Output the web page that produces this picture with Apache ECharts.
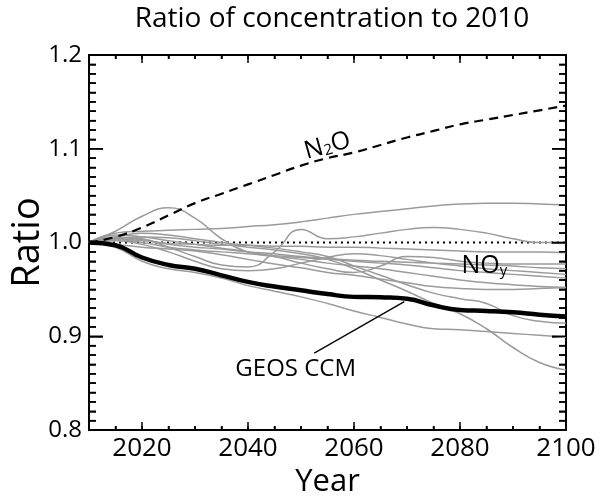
<!DOCTYPE html>
<html><head><meta charset="utf-8">
<script src="https://cdn.jsdelivr.net/npm/echarts@6/dist/echarts.min.js"></script>
<style>html,body{margin:0;padding:0;background:#fff}#c{width:600px;height:497px}</style>
</head><body><div id="c"></div><script>
// Years sampled every 5 years, 2010-2100
const years = [2010,2015,2020,2025,2030,2035,2040,2045,2050,2055,2060,2065,2070,2075,2080,2085,2090,2095,2100];

// N2O ratio (dashed)
const n2o = [1.000,1.006,1.016,1.029,1.042,1.052,1.062,1.072,1.082,1.090,1.096,1.104,1.112,1.119,1.126,1.131,1.136,1.141,1.146];
// GEOS CCM NOy ratio (thick black)
const geos = [1.000,0.997,0.984,0.976,0.972,0.965,0.958,0.953,0.949,0.945,0.942,0.9415,0.940,0.933,0.928,0.927,0.9255,0.923,0.921];
// Other models' NOy ratios (grey)
const m1  = [1.000,1.010,1.012,1.013,1.014,1.015,1.017,1.019,1.022,1.026,1.030,1.033,1.036,1.039,1.041,1.042,1.042,1.041,1.040];
const m2  = [1.000,1.012,1.028,1.037,1.026,1.004,0.990,0.985,0.982,0.978,0.975,0.972,0.968,0.964,0.960,0.957,0.955,0.953,0.952];
const m3  = [1.000,1.006,1.004,0.995,0.985,0.976,0.974,0.990,1.014,1.004,1.006,1.010,1.014,1.016,1.014,1.010,1.004,1.000,1.000];
const m4  = [1.000,1.004,1.002,0.999,0.998,0.997,0.997,0.996,0.996,0.995,0.995,0.994,0.993,0.992,0.991,0.990,0.990,0.990,0.989];
const m5  = [1.000,1.008,1.006,1.002,0.998,0.994,0.990,0.985,0.978,0.972,0.968,0.975,0.985,0.984,0.980,0.978,0.977,0.977,0.977];
const m6  = [1.000,1.005,1.003,0.998,0.995,0.993,0.990,0.988,0.985,0.983,0.981,0.980,0.979,0.978,0.977,0.976,0.975,0.973,0.972];
const m7  = [1.000,1.003,1.000,0.995,0.992,0.990,0.988,0.986,0.984,0.982,0.980,0.978,0.976,0.973,0.970,0.968,0.966,0.964,0.962];
const m8  = [1.000,1.006,1.010,1.008,1.004,1.000,0.997,0.994,0.990,0.985,0.975,0.965,0.955,0.946,0.940,0.935,0.922,0.916,0.914];
const m9  = [1.000,1.004,1.006,1.005,1.002,0.998,0.995,0.992,0.988,0.982,0.972,0.960,0.948,0.935,0.924,0.908,0.888,0.872,0.864];
const m10 = [1.000,0.995,0.980,0.972,0.968,0.962,0.954,0.948,0.942,0.935,0.927,0.920,0.913,0.908,0.907,0.905,0.903,0.901,0.899];
const m11 = [1.000,0.998,0.995,0.993,0.991,0.987,0.982,0.977,0.973,0.968,0.965,0.961,0.957,0.953,0.951,0.950,0.950,0.951,0.952];
const m12 = [1.000,1.002,0.998,0.990,0.980,0.972,0.970,0.972,0.978,0.984,0.988,0.986,0.982,0.978,0.975,0.972,0.970,0.968,0.966];
const models = [m1,m2,m3,m4,m5,m6,m7,m8,m9,m10,m11,m12];

// Reference line at ratio 1
const refLine = [[2010,1.0],[2100,1.0]];

// Axis range and tick layout
const X_MIN = 2010, X_MAX = 2100, Y_MIN = 0.8, Y_MAX = 1.2;
const xMajorTicks = [2020,2040,2060,2080,2100];
const yMajorTicks = [0.8,0.9,1.0,1.1,1.2];

// Annotations: [x, y, text] in data coordinates
const n2oLabel = [2055, 1.103, '{b|N}{s|2}{b|O}'];
const noyLabel = [2084.6, 0.975, '{b|NO}{s|y}'];
const geosLabel = [2049, 0.8645, 'GEOS CCM'];
const arrowFrom = [2052.5, 0.882];
const arrowTo = [2069.5, 0.937];

const FONT = '"Open Sans", "Noto Sans", sans-serif';
const pair = arr => years.map((y, i) => [y, arr[i]]);

// Plot area (pixels) and data units per pixel, used to size tick marks
const GRID = {left: 89, right: 34, top: 55, bottom: 67};
const PLOT_W = 600 - GRID.left - GRID.right, PLOT_H = 497 - GRID.top - GRID.bottom;
const dxPerPx = (X_MAX - X_MIN) / PLOT_W, dyPerPx = (Y_MAX - Y_MIN) / PLOT_H;

// Inward tick segments on all four frame edges: every 5 years, every 0.01
const tickSegs = [];
for (let yr = X_MIN; yr <= X_MAX; yr += 5) {
  const len = (xMajorTicks.includes(yr) ? 8 : 4) * dyPerPx;
  tickSegs.push([[yr, Y_MIN], [yr, Y_MIN + len]]);
  tickSegs.push([[yr, Y_MAX], [yr, Y_MAX - len]]);
}
for (let k = 0; k <= 40; k++) {
  const v = +(Y_MIN + k * 0.01).toFixed(2);
  const len = (yMajorTicks.some(t => Math.abs(t - v) < 1e-9) ? 14 : 7) * dxPerPx;
  tickSegs.push([[X_MIN, v], [X_MIN + len, v]]);
  tickSegs.push([[X_MAX, v], [X_MAX - len, v]]);
}

const chart = echarts.init(document.getElementById('c'));

const frameLine = () => ({show: true, onZero: false, lineStyle: {color: '#000', width: 2}});
const rich = {
  b: {fontFamily: FONT, fontSize: 25, color: '#000'},
  s: {fontFamily: FONT, fontSize: 15, color: '#000', padding: [9, 0, 0, 0]}
};

const series = [];
series.push({
  type: 'line', data: refLine, symbol: 'none', silent: true, z: 2,
  lineStyle: {color: '#000', width: 2, type: [2, 4]}
});
models.forEach(m => series.push({
  type: 'line', data: pair(m), symbol: 'none', smooth: true, silent: true, z: 3,
  lineStyle: {color: '#9b9b9b', width: 1.5}
}));
series.push({
  type: 'line', data: pair(n2o), symbol: 'none', smooth: true, silent: true, z: 4,
  lineStyle: {color: '#000', width: 2.2, type: [9, 6]}
});
series.push({
  type: 'line', data: pair(geos), symbol: 'none', smooth: true, silent: true, z: 5,
  lineStyle: {color: '#000', width: 4.5},
  markLine: {
    silent: true, symbol: ['none', 'arrow'], symbolSize: [0, 9],
    label: {show: false},
    lineStyle: {color: '#000', width: 1.3, type: 'solid'},
    data: [[{coord: arrowFrom}, {coord: arrowTo}]]
  }
});
// Each tick mark as its own short two-point line
tickSegs.forEach(seg => series.push({
  type: 'line', data: seg, symbol: 'none', silent: true, z: 6, clip: false,
  lineStyle: {color: '#000', width: 1.5, type: 'solid'}
}));
// Text labels for N2O, NOy and GEOS CCM
series.push({
  type: 'custom', silent: true, z: 10, clip: false,
  data: [n2oLabel.slice(0, 2), noyLabel.slice(0, 2), geosLabel.slice(0, 2)],
  renderItem: (params, api) => {
    const p = api.coord([api.value(0), api.value(1)]);
    const i = params.dataIndex;
    if (i === 2) {
      return {type: 'text', x: p[0], y: p[1],
        style: {text: geosLabel[2], fontFamily: FONT, fontSize: 24, fill: '#000', align: 'center', verticalAlign: 'middle'}};
    }
    const lab = i === 0 ? n2oLabel : noyLabel;
    return {type: 'text', x: p[0], y: p[1], rotation: i === 0 ? 0.27 : 0,
      style: {text: lab[2], rich: rich, align: 'center', verticalAlign: 'middle'}};
  }
});

chart.setOption({
  animation: false,
  title: {
    text: 'Ratio of concentration to 2010', left: 327, top: 0, textAlign: 'center',
    textStyle: {fontFamily: FONT, fontSize: 28, fontWeight: 'normal', color: '#000'}
  },
  grid: {left: GRID.left, right: GRID.right, top: GRID.top, bottom: GRID.bottom, outerBoundsMode: 'none', containLabel: false},
  xAxis: [
    {
      type: 'value', min: X_MIN, max: X_MAX, interval: 5, position: 'bottom',
      axisLine: frameLine(), splitLine: {show: false},
      axisTick: {show: true, inside: true, length: 4, lineStyle: {color: '#000', width: 1.5}},
      axisLabel: {
        show: true, margin: 6, color: '#000', fontFamily: FONT, fontSize: 26,
        formatter: v => xMajorTicks.includes(v) ? String(v) : ''
      },
      name: 'Year', nameLocation: 'middle', nameGap: 34,
      nameTextStyle: {fontFamily: FONT, fontSize: 31, color: '#000'}
    },
    {
      type: 'value', min: X_MIN, max: X_MAX, interval: 5, position: 'top',
      axisLine: frameLine(), splitLine: {show: false}, axisLabel: {show: false},
      axisTick: {show: true, inside: true, length: 4, lineStyle: {color: '#000', width: 1.5}}
    }
  ],
  yAxis: [
    {
      type: 'value', min: Y_MIN, max: Y_MAX, interval: 0.1, position: 'left',
      axisLine: frameLine(), splitLine: {show: false},
      axisTick: {show: true, inside: true, length: 14, lineStyle: {color: '#000', width: 1.5}},
      minorTick: {show: true, splitNumber: 10, length: 7, lineStyle: {color: '#000', width: 1.5}},
      axisLabel: {
        show: true, margin: 7, color: '#000', fontFamily: FONT, fontSize: 24,
        formatter: v => v.toFixed(1)
      },
      name: 'Ratio', nameLocation: 'middle', nameGap: 42, nameMoveOverlap: false,
      nameTextStyle: {fontFamily: FONT, fontSize: 38, color: '#000'}
    },
    {
      type: 'value', min: Y_MIN, max: Y_MAX, interval: 0.1, position: 'right',
      axisLine: frameLine(), splitLine: {show: false}, axisLabel: {show: false},
      axisTick: {show: true, inside: true, length: 14, lineStyle: {color: '#000', width: 1.5}},
      minorTick: {show: true, splitNumber: 10, length: 7, lineStyle: {color: '#000', width: 1.5}}
    }
  ],
  series: series
});
</script></body></html>
